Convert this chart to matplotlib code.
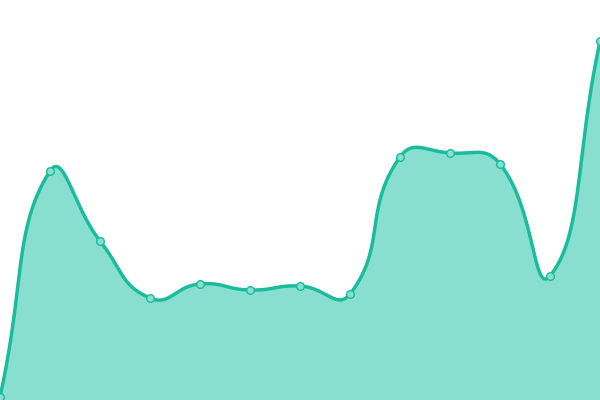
import numpy as np
import matplotlib
matplotlib.use("Agg")
import matplotlib.pyplot as plt

# 数据：13个点，纵轴范围 0-400
x_idx = list(range(13))
values = [3, 229, 159, 102, 116, 110, 114, 106, 243, 247, 236, 124, 359]

LINE = "#1abc9c"
FILL = "#89dfcf"
X_STEP = 50.0  # 每个类别的像素宽度，用于按距离加权平滑


def smooth_curve(xs, ys, n=40, smooth=0.5):
    """按相邻线段长度加权的三次贝塞尔平滑"""
    xs = np.asarray(xs, float) * X_STEP
    ys = np.asarray(ys, float)
    m = len(xs)
    cin, cout = [None] * m, [None] * m
    for i in range(m):
        px_, py_ = (xs[i - 1], ys[i - 1]) if i > 0 else (xs[i], ys[i])
        nx_, ny_ = (xs[i + 1], ys[i + 1]) if i < m - 1 else (xs[i], ys[i])
        vx, vy = nx_ - px_, ny_ - py_
        d0 = np.hypot(xs[i] - px_, ys[i] - py_)
        d1 = np.hypot(nx_ - xs[i], ny_ - ys[i])
        r = d1 / (d0 + d1) if d0 + d1 > 0 else 0.5
        cin[i] = (xs[i] - vx * smooth * (1 - r), ys[i] - vy * smooth * (1 - r))
        cout[i] = (xs[i] + vx * smooth * r, ys[i] + vy * smooth * r)
    px, py = [], []
    t = np.linspace(0, 1, n, endpoint=False)
    b0 = (1 - t) ** 3
    b1 = 3 * (1 - t) ** 2 * t
    b2 = 3 * (1 - t) * t ** 2
    b3 = t ** 3
    for i in range(m - 1):
        c1, c2 = cout[i], cin[i + 1]
        px.extend(b0 * xs[i] + b1 * c1[0] + b2 * c2[0] + b3 * xs[i + 1])
        py.extend(b0 * ys[i] + b1 * c1[1] + b2 * c2[1] + b3 * ys[i + 1])
    px.append(xs[-1])
    py.append(ys[-1])
    return np.array(px) / X_STEP, np.array(py)


fig = plt.figure(figsize=(6, 4), dpi=100)
ax = fig.add_axes([0, 0, 1, 1])

sx, sy = smooth_curve(x_idx, values, smooth=0.5)
ax.fill_between(sx, sy, 0, color=FILL, linewidth=0)
ax.plot(sx, sy, color=LINE, linewidth=2.5, solid_capstyle="round")
ax.plot(x_idx, values, linestyle="none", marker="o", markersize=5.5,
        markerfacecolor=FILL, markeredgecolor=LINE, markeredgewidth=1.0)

ax.set_xlim(0, 12)
ax.set_ylim(0, 400)
ax.axis("off")

plt.savefig("out.png", dpi=100, facecolor="white")
plt.close()
